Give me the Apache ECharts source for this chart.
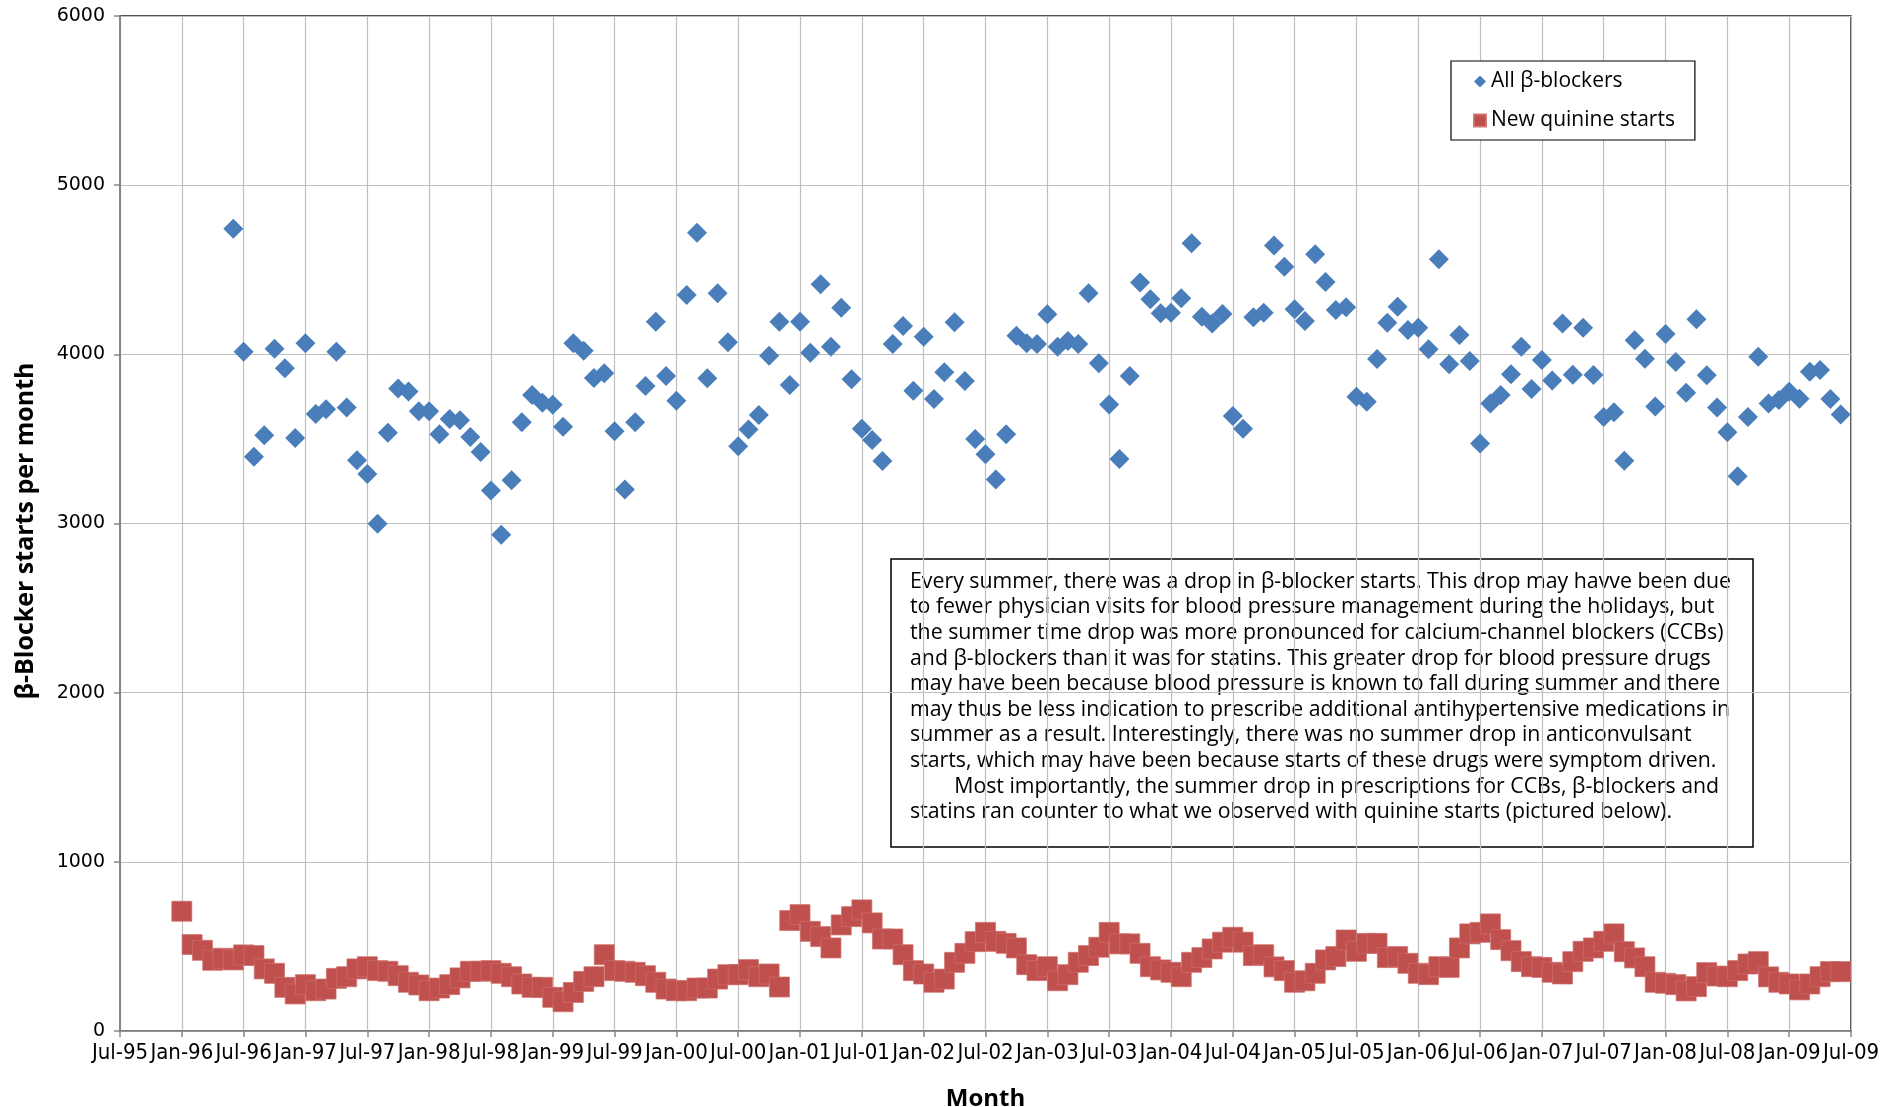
<!DOCTYPE html>
<html>
<head>
<meta charset="utf-8">
<script src="https://cdn.jsdelivr.net/npm/echarts@6/dist/echarts.min.js"></script>
<style>
html,body{margin:0;padding:0;background:#fff;}
#chart{width:1902px;height:1107px;}
</style>
</head>
<body>
<div id="chart"></div>
<script>
// Month index counted from Jul-95 (= 0)
const xTickLabels = ['Jul-95','Jan-96','Jul-96','Jan-97','Jul-97','Jan-98','Jul-98','Jan-99','Jul-99','Jan-00','Jul-00','Jan-01','Jul-01','Jan-02','Jul-02','Jan-03','Jul-03','Jan-04','Jul-04','Jan-05','Jul-05','Jan-06','Jul-06','Jan-07','Jul-07','Jan-08','Jul-08','Jan-09','Jul-09'];
const yTicks = [0, 1000, 2000, 3000, 4000, 5000, 6000];

const seriesNames = ['All β-blockers', 'New quinine starts'];

// All beta-blockers: monthly, first value is Jun-96 (month 11)
const betaStartMonth = 11;
const betaBlockers = [
4743,4015,3394,3521,4033,3917,3505,4065,3647,3675,
4015,3686,3374,3292,2998,3536,3798,3781,3664,3664,
3527,3617,3611,3511,3422,3195,2933,3256,3598,3759,
3714,3702,3572,4065,4021,3860,3888,3546,3201,3598,
3813,4193,3872,3725,4351,4718,3858,4361,4071,3457,
3556,3641,3992,4193,3818,4193,4010,4414,4045,4276,
3852,3560,3493,3369,4061,4167,3785,4104,3736,3894,
4189,3842,3499,3410,3260,3528,4110,4065,4061,4237,
4045,4079,4061,4361,3947,3704,3382,3872,4424,4325,
4243,4246,4331,4657,4222,4183,4238,3635,3560,4219,
4246,4643,4518,4266,4197,4592,4428,4262,4278,3749,
3720,3972,4187,4282,4144,4157,4030,4562,3941,4114,
3960,3473,3710,3759,3883,4045,3795,3966,3846,4183,
3880,4157,3878,3630,3657,3371,4083,3974,3692,4120,
3954,3773,4207,3876,3686,3540,3280,3630,3986,3710,
3730,3779,3737,3897,3907,3736,3645
];

// New quinine starts: monthly, first value is Jan-96 (month 6)
const quinineStartMonth = 6;
const quinine = [
708,511,477,418,430,420,450,446,367,341,
258,219,274,238,248,311,321,367,380,357,
353,327,288,272,238,254,274,314,353,353,
357,341,321,278,258,258,199,173,228,293,
321,451,357,353,347,327,288,248,238,238,
254,254,307,333,333,363,321,337,260,653,
688,589,558,491,627,676,716,639,544,544,
451,357,337,288,307,406,459,528,583,530,
518,491,392,357,380,297,333,406,446,495,
583,515,515,459,380,361,347,321,406,434,
485,525,554,525,446,451,379,357,288,297,
341,420,440,538,471,518,518,434,440,400,
341,333,380,376,491,574,583,633,540,475,
410,380,376,347,337,410,471,491,530,574,
469,432,380,288,282,274,237,262,345,325,
321,357,396,410,320,288,278,243,278,321,
351,351
];

const noteLines = [
'Every summer, there was a drop in β-blocker starts. This drop may havve been due',
'to fewer physician visits for blood pressure management during the holidays, but',
'the summer time drop was more pronounced for calcium-channel blockers (CCBs)',
'and β-blockers than it was for statins. This greater drop for blood pressure drugs',
'may have been because blood pressure is known to fall during summer and there',
'may thus be less indication to prescribe additional antihypertensive medications in',
'summer as a result. Interestingly, there was no summer drop in anticonvulsant',
'starts, which may have been because starts of these drugs were symptom driven.',
'        Most importantly, the summer drop in prescriptions for CCBs, β-blockers and',
'statins ran counter to what we observed with quinine starts (pictured below).'
];

const betaData = betaBlockers.map((v, i) => [betaStartMonth + i, v]);
const quinineData = quinine.map((v, i) => [quinineStartMonth + i, v]);

const chart = echarts.init(document.getElementById('chart'), null, {renderer: 'canvas'});
const gridColor = '#BFBFBF';
const axisColor = '#868686';
const baseFont = '"Open Sans", "DejaVu Sans", sans-serif';

chart.setOption({
  animation: false,
  backgroundColor: '#fff',
  grid: {left: 120, right: 51, top: 16, bottom: 76, containLabel: false, outerBoundsMode: 'none',
    show: true, borderColor: '#1a1a1a', borderWidth: 1.5, backgroundColor: 'transparent'},
  legend: {
    left: 1451, top: 61,
    orient: 'vertical',
    data: seriesNames,
    backgroundColor: '#fff',
    borderColor: '#000', borderWidth: 1.2,
    padding: [8, 20, 7, 22],
    itemGap: 14,
    itemWidth: 12, itemHeight: 12,
    textStyle: {fontFamily: baseFont, fontSize: 21, color: '#000', lineHeight: 25}
  },
  xAxis: {
    type: 'value', min: 0, max: (xTickLabels.length - 1) * 6, interval: 6,
    name: 'Month', nameLocation: 'middle', nameGap: 56,
    nameTextStyle: {fontFamily: baseFont, fontWeight: 'bold', fontSize: 24, color: '#000'},
    axisLine: {show: true, onZero: false, lineStyle: {color: axisColor, width: 1.5}},
    axisTick: {show: true, length: 6, lineStyle: {color: axisColor, width: 1.5}},
    axisLabel: {
      margin: 11, showMinLabel: true, showMaxLabel: true, hideOverlap: false,
      fontFamily: '"Liberation Sans Narrow", "DejaVu Sans Condensed", "Liberation Sans", sans-serif',
      fontSize: 22, color: '#000',
      formatter: v => xTickLabels[Math.round(v / 6)]
    },
    splitLine: {show: true, lineStyle: {color: gridColor, width: 1.2}}
  },
  yAxis: {
    type: 'value', min: yTicks[0], max: yTicks[yTicks.length - 1], interval: 1000,
    name: 'β-Blocker starts per month', nameLocation: 'middle', nameGap: 82,
    nameTextStyle: {fontFamily: baseFont, fontWeight: 'bold', fontSize: 25, color: '#000', padding: [0, 15, 0, 0]},
    axisLine: {show: true, lineStyle: {color: axisColor, width: 2}},
    axisTick: {show: true, length: 6, lineStyle: {color: axisColor, width: 1.5}},
    axisLabel: {margin: 15, fontFamily: '"DejaVu Sans", sans-serif', fontSize: 19, color: '#000',
      formatter: v => String(v)},
    splitLine: {show: true, lineStyle: {color: gridColor, width: 1.2}}
  },
  graphic: [{
    type: 'group', z: 50,
    children: [
      {type: 'rect', shape: {x: 891, y: 559, width: 862, height: 288}, style: {fill: '#fff', stroke: '#000', lineWidth: 1.5}},
      {type: 'text', x: 910, y: 569, style: {text: noteLines.join('\n'), font: '21.3px ' + baseFont, fill: '#000', lineHeight: 25.6, verticalAlign: 'top', align: 'left'}}
    ]
  }],
  series: [
    {
      name: seriesNames[0], type: 'scatter', symbol: 'diamond', symbolSize: 20,
      itemStyle: {color: '#4A7EBB', opacity: 1}, data: betaData, z: 3
    },
    {
      name: seriesNames[1], type: 'scatter', symbol: 'rect', symbolSize: 20,
      itemStyle: {color: '#C0504D', opacity: 1, borderColor: 'rgba(205,110,107,0.9)', borderWidth: 0.8}, data: quinineData, z: 4
    }
  ]
});
</script>
</body>
</html>
